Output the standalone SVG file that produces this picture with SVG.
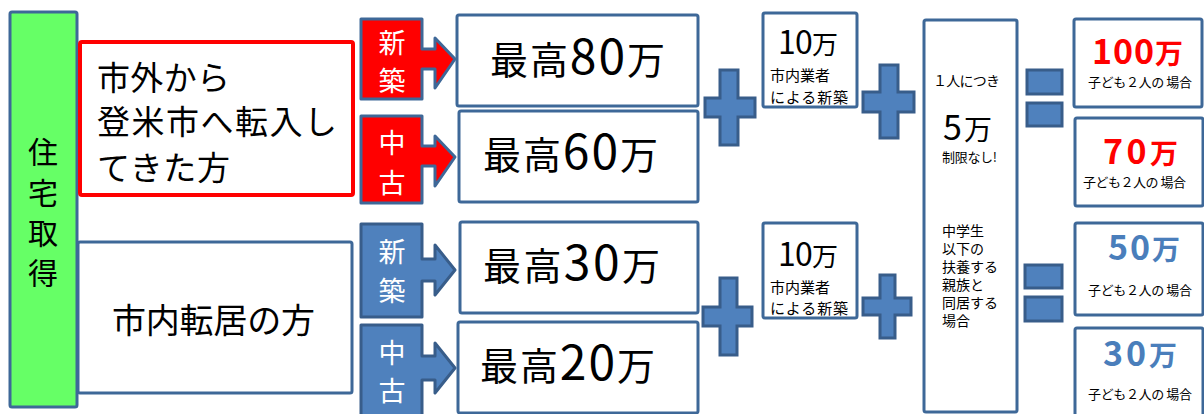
<svg xmlns="http://www.w3.org/2000/svg" width="1204" height="414" viewBox="0 0 1204 414">
<style>
text{font-family:"Noto Sans CJK JP","Noto Sans",sans-serif;fill:#000}
.box{fill:#fff;stroke:#3E6898;stroke-width:3;stroke-linejoin:round}
.red{fill:#fff;stroke:#FF0000;stroke-width:4;stroke-linejoin:round}
.callr{fill:#FF0000;stroke:#3E6898;stroke-width:3;stroke-linejoin:round}
.callb{fill:#4F81BD;stroke:#385D8A;stroke-width:3;stroke-linejoin:round}
.op{fill:#4F81BD;stroke:#385D8A;stroke-width:3;stroke-linejoin:miter}
.w{fill:#fff;font-size:27px;text-anchor:middle}
.big{font-size:38px}
.bd{font-size:48px}
.mid{font-size:26px}
.md{font-size:32px}
.sm{font-size:15px}
.xs{font-size:13px}
.rv{fill:#FF0000;font-size:28px;font-weight:bold}
.bv{fill:#4A7EBB;font-size:28px;font-weight:bold}
.vd{font-size:34px}
</style>
<g id="housing">
<rect x="10" y="12" width="67" height="395" rx="2" fill="#66FF66" stroke="#3E6898" stroke-width="3"/>
<text x="43" y="163" font-size="30" text-anchor="middle">住</text>
<text x="43" y="204" font-size="30" text-anchor="middle">宅</text>
<text x="43" y="244" font-size="30" text-anchor="middle">取</text>
<text x="43" y="284" font-size="30" text-anchor="middle">得</text>
</g>
<g id="from-outside">
<rect class="red" x="80" y="42" width="273" height="153" rx="2"/>
<text x="97" y="90" font-size="33" textLength="133">市外から</text>
<text x="97" y="134" font-size="33" textLength="240">登米市へ転入し</text>
<text x="97" y="180" font-size="33" textLength="133">てきた方</text>
</g>
<g id="within-city">
<rect class="box" x="78" y="242" width="274" height="151" rx="2"/>
<text x="112" y="333" font-size="34" textLength="203">市内転居の方</text>
</g>
<g id="red-new">
<path class="callr" d="M361,19 H422 V49 H435 V38 L455,59 L435,88 V69 H422 V99 H361 Z"/>
<text class="w" x="392" y="53">新</text>
<text class="w" x="392" y="91">築</text>
</g>
<g id="red-used">
<path class="callr" d="M361,116 H422 V146 H435 V136 L455,157 L435,186 V166 H422 V203 H361 Z"/>
<text class="w" x="392" y="153">中</text>
<text class="w" x="392" y="193">古</text>
</g>
<g id="blue-new">
<path class="callb" d="M361,224 H422 V259 H435 V245 L455,270 L435,295 V281 H422 V317 H361 Z"/>
<text class="w" x="392" y="262">新</text>
<text class="w" x="392" y="301">築</text>
</g>
<g id="blue-used">
<path class="callb" d="M361,325 H422 V356 H435 V343 L455,368 L435,393 V380 H422 V416 H361 Z"/>
<text class="w" x="392" y="363">中</text>
<text class="w" x="392" y="401">古</text>
</g>
<g id="max80">
<rect class="box" x="457" y="15" width="241" height="91" rx="2"/>
<text class="big" x="490" y="74" textLength="175">最高<tspan class="bd">80</tspan>万</text>
</g>
<g id="max60">
<rect class="box" x="459" y="111" width="239" height="91" rx="2"/>
<text class="big" x="483" y="169" textLength="175">最高<tspan class="bd">60</tspan>万</text>
</g>
<g id="max30">
<rect class="box" x="460" y="222" width="238" height="91" rx="2"/>
<text class="big" x="483" y="280" textLength="177">最高<tspan class="bd">30</tspan>万</text>
</g>
<g id="max20">
<rect class="box" x="458" y="322" width="240" height="91" rx="2"/>
<text class="big" x="480" y="380" textLength="175">最高<tspan class="bd">20</tspan>万</text>
</g>
<g id="builder-top">
<rect class="box" x="763" y="13" width="94" height="94" rx="2"/>
<text class="mid" x="778" y="54" textLength="60"><tspan class="md">10</tspan>万</text>
<text class="sm" x="770" y="81">市内業者</text>
<text class="sm" x="770" y="103" textLength="78">による新築</text>
</g>
<g id="builder-bottom">
<rect class="box" x="763" y="223" width="94" height="95" rx="2"/>
<text class="mid" x="778" y="266" textLength="60"><tspan class="md">10</tspan>万</text>
<text class="sm" x="770" y="293">市内業者</text>
<text class="sm" x="770" y="314" textLength="78">による新築</text>
</g>
<g id="per-person">
<rect class="box" x="924" y="20" width="93" height="392" rx="2"/>
<text font-size="14" x="933" y="86" textLength="67">１人につき</text>
<text font-size="28" x="943" y="140" textLength="49"><tspan font-size="34">5</tspan>万</text>
<text class="xs" x="942" y="162" textLength="55">制限なし!</text>
<text font-size="14" x="942" y="236">中学生</text>
<text font-size="14" x="942" y="254">以下の</text>
<text font-size="14" x="942" y="272">扶養する</text>
<text font-size="14" x="942" y="290">親族と</text>
<text font-size="14" x="942" y="308">同居する</text>
<text font-size="14" x="942" y="326">場合</text>
</g>
<g id="total100">
<rect class="box" x="1074" y="19" width="128" height="88" rx="2"/>
<text class="rv" x="1092" y="64" textLength="91"><tspan class="vd">100</tspan>万</text>
<text class="xs" x="1088" y="87" textLength="104">子ども２人の 場合</text>
</g>
<g id="total70">
<rect class="box" x="1075" y="118" width="128" height="88" rx="2"/>
<text class="rv" x="1103" y="164" textLength="75"><tspan class="vd">70</tspan>万</text>
<text class="xs" x="1083" y="187" textLength="103">子ども２人の 場合</text>
</g>
<g id="total50">
<rect class="box" x="1075" y="223" width="128" height="92" rx="2"/>
<text class="bv" x="1108" y="260" textLength="72"><tspan class="vd">50</tspan>万</text>
<text class="xs" x="1088" y="295" textLength="104">子ども２人の 場合</text>
</g>
<g id="total30">
<rect class="box" x="1075" y="328" width="128" height="90" rx="2"/>
<text class="bv" x="1103" y="366" textLength="74"><tspan class="vd">30</tspan>万</text>
<text class="xs" x="1088" y="399" textLength="104">子ども２人の 場合</text>
</g>
<g id="connectors">
<path class="op" d="M720,70 H738 V98 H755 V117 H738 V145 H720 V117 H705 V98 H720 Z"/>
<path class="op" d="M880,65 H898 V92 H914 V112 H898 V138 H880 V112 H863 V92 H880 Z"/>
<path class="op" d="M720,278 H737 V307 H752 V326 H737 V355 H720 V326 H703 V307 H720 Z"/>
<path class="op" d="M880,275 H895 V298 H911 V315 H895 V338 H880 V315 H863 V298 H880 Z"/>
<rect class="op" x="1027" y="70" width="35" height="24"/>
<rect class="op" x="1027" y="103" width="35" height="23"/>
<rect class="op" x="1025" y="265" width="37" height="23"/>
<rect class="op" x="1025" y="297" width="37" height="24"/>
</g>
</svg>
